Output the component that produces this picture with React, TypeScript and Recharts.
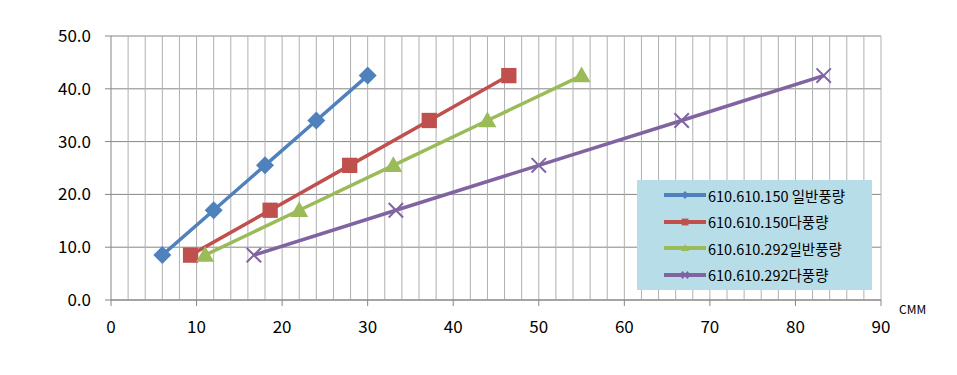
import React from 'react';
import { LineChart, Line, XAxis, YAxis, CartesianGrid, ReferenceLine } from 'recharts';

const xTicks = [0, 10, 20, 30, 40, 50, 60, 70, 80, 90];
const yTicks = [0, 10, 20, 30, 40, 50];
const minorX = [2, 4, 6, 8, 10, 12, 14, 16, 18, 20, 22, 24, 26, 28, 30, 32, 34, 36, 38, 40, 42, 44, 46, 48, 50, 52, 54, 56, 58, 60, 62, 64, 66, 68, 70, 72, 74, 76, 78, 80, 82, 84, 86, 88, 90];

const pressure = [8.5, 17, 25.5, 34, 42.5];
const a150Normal = [6, 12, 18, 24, 30];
const a150Large = [9.3, 18.6, 27.9, 37.2, 46.5];
const a292Normal = [11, 22, 33, 44, 55];
const a292Large = [16.7, 33.3, 50, 66.7, 83.3];

const seriesDefs = [
  { name: '610.610.150 일반풍량', xs: a150Normal, color: '#4f81bd', shape: 'diamond' },
  { name: '610.610.150다풍량', xs: a150Large, color: '#c0504d', shape: 'square' },
  { name: '610.610.292일반풍량', xs: a292Normal, color: '#9bbb59', shape: 'triangle' },
  { name: '610.610.292다풍량', xs: a292Large, color: '#8064a2', shape: 'cross' },
];

const series = seriesDefs.map(s => ({ ...s, data: s.xs.map((x, i) => ({ x, y: pressure[i] })) }));

const font = '"Noto Sans CJK KR", "Noto Sans", sans-serif';

function Marker({ cx, cy, shape, color, r }: { cx: number; cy: number; shape: string; color: string; r: number }) {
  if (shape === 'diamond') {
    return <path d={`M${cx},${cy - r} L${cx + r},${cy} L${cx},${cy + r} L${cx - r},${cy} Z`} fill={color} />;
  }
  if (shape === 'square') {
    const s = r * 0.85;
    return <rect x={cx - s} y={cy - s} width={s * 2} height={s * 2} fill={color} />;
  }
  if (shape === 'triangle') {
    return <path d={`M${cx},${cy - r} L${cx + r},${cy + r * 0.75} L${cx - r},${cy + r * 0.75} Z`} fill={color} />;
  }
  const s = r * 0.8;
  return (
    <path d={`M${cx - s},${cy - s} L${cx + s},${cy + s} M${cx + s},${cy - s} L${cx - s},${cy + s}`} stroke={color} strokeWidth={2} fill="none" />
  );
}

function LegendBox() {
  return (
    <div style={{ position: 'absolute', left: 629, top: 172, background: '#b7dde8', width: 235, height: 110, padding: '2px 0', boxSizing: 'border-box', fontFamily: font }}>
      {series.map(s => (
        <div key={s.name} style={{ display: 'flex', alignItems: 'center', height: 26.5 }}>
          <svg width={46} height={12} style={{ marginLeft: 25 }}>
            <line x1={2} y1={6} x2={44} y2={6} stroke={s.color} strokeWidth={4} />
            <Marker cx={23} cy={6} shape={s.shape} color={s.color} r={4} />
          </svg>
          <span style={{ fontSize: 14.5, color: '#000' }}>{s.name}</span>
        </div>
      ))}
    </div>
  );
}

export default function App() {
  return (
    <div style={{ position: 'relative', width: 940, height: 360 }}>
      <LineChart width={940} height={360} margin={{ top: 28, right: 67, left: 0, bottom: 28 }}>
        <CartesianGrid vertical={false} stroke="#868686" strokeWidth={1} />
        {minorX.map(v => (
          <ReferenceLine key={v} x={v} stroke="#b0b0b0" strokeWidth={1} />
        ))}
        <XAxis
          type="number"
          dataKey="x"
          domain={[0, 90]}
          ticks={xTicks}
          interval={0}
          height={40}
          stroke="#868686"
          tickSize={6}
          tickMargin={15}
          tick={{ fill: '#000', fontSize: 17, fontFamily: font }}
          allowDuplicatedCategory={false}
        />
        <YAxis
          type="number"
          dataKey="y"
          domain={[0, 50]}
          ticks={yTicks}
          interval={0}
          width={103}
          stroke="#868686"
          tickSize={6}
          tickMargin={14}
          tickFormatter={(v: number) => v.toFixed(1)}
          tick={{ fill: '#000', fontSize: 17, fontFamily: font }}
        />
        {series.map(s => (
          <Line
            key={s.name}
            data={s.data}
            dataKey="y"
            name={s.name}
            type="linear"
            stroke={s.color}
            strokeWidth={3.5}
            isAnimationActive={false}
            dot={(p: any) => <Marker key={`${s.name}-${p.index}`} cx={p.cx} cy={p.cy} shape={s.shape} color={s.color} r={9} />}
            activeDot={false}
          />
        ))}
      </LineChart>
      <LegendBox />
      <div style={{ position: 'absolute', left: 891, top: 292, fontSize: 12, fontFamily: font, color: '#000' }}>CMM</div>
    </div>
  );
}
